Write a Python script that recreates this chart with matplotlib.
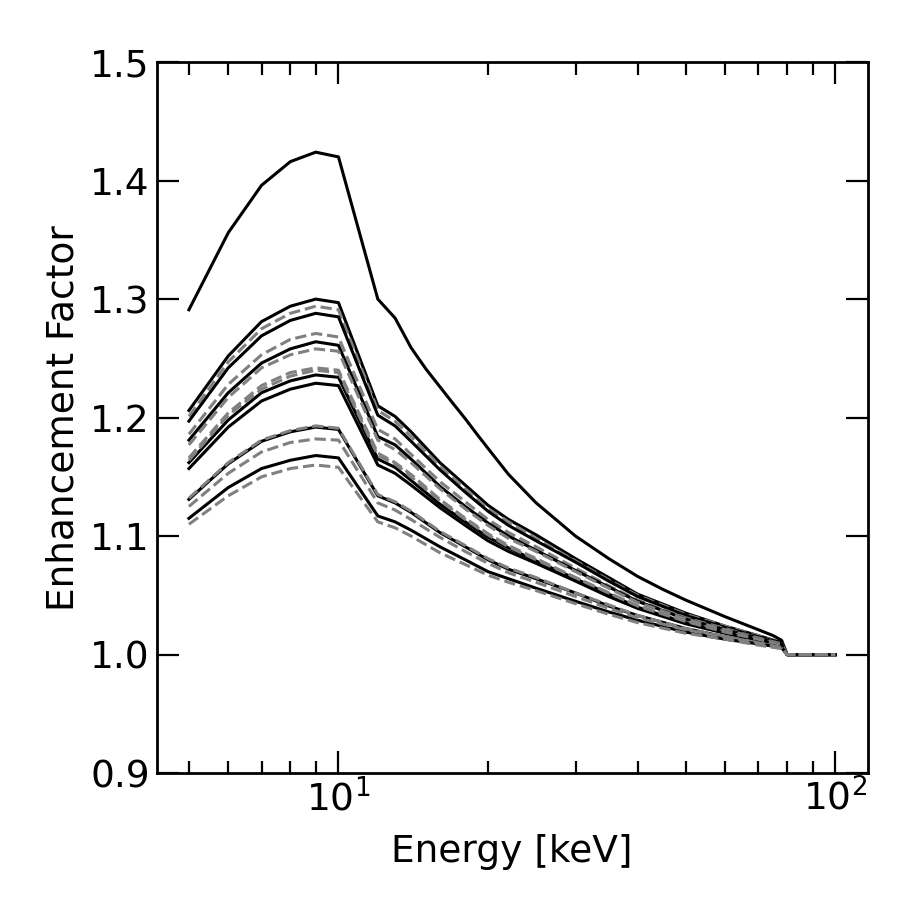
import numpy as np
import matplotlib
matplotlib.use('Agg')
import matplotlib.pyplot as plt

# энергии, кэВ
energy = [5, 6, 7, 8, 9, 10, 12, 13, 14, 16, 18, 20, 22, 25, 30, 35, 40, 50, 60, 70, 78, 80, 100]
energy_top = [5, 6, 7, 8, 9, 10, 12, 13, 14, 15, 16, 17, 18, 19, 20, 22, 25, 30, 35, 40, 45, 50,
              60, 70, 75, 78, 80, 90, 100]

# верхняя кривая
top_curve = [1.291, 1.356, 1.396, 1.416, 1.424, 1.420, 1.300, 1.284, 1.259, 1.241, 1.226, 1.212,
             1.199, 1.186, 1.174, 1.152, 1.128, 1.100, 1.081, 1.066, 1.055, 1.046, 1.032, 1.021,
             1.016, 1.012, 1.0, 1.0, 1.0]

# сплошные кривые
solid_curves = [
    [1.206, 1.252, 1.281, 1.294, 1.300, 1.297, 1.210, 1.201, 1.188, 1.162, 1.143, 1.126, 1.114,
     1.101, 1.081, 1.065, 1.051, 1.035, 1.024, 1.016, 1.010, 1.0, 1.0],
    [1.197, 1.242, 1.269, 1.282, 1.288, 1.285, 1.202, 1.193, 1.180, 1.156, 1.137, 1.121, 1.109,
     1.096, 1.078, 1.062, 1.049, 1.033, 1.023, 1.015, 1.010, 1.0, 1.0],
    [1.181, 1.221, 1.246, 1.258, 1.264, 1.261, 1.184, 1.177, 1.165, 1.142, 1.125, 1.111, 1.100,
     1.088, 1.071, 1.057, 1.045, 1.030, 1.021, 1.014, 1.009, 1.0, 1.0],
    [1.162, 1.198, 1.221, 1.231, 1.236, 1.234, 1.165, 1.158, 1.147, 1.127, 1.112, 1.099, 1.090,
     1.079, 1.064, 1.051, 1.040, 1.027, 1.019, 1.013, 1.008, 1.0, 1.0],
    [1.157, 1.192, 1.214, 1.224, 1.229, 1.227, 1.160, 1.153, 1.143, 1.124, 1.109, 1.096, 1.087,
     1.077, 1.062, 1.049, 1.039, 1.026, 1.018, 1.012, 1.008, 1.0, 1.0],
    [1.131, 1.161, 1.180, 1.188, 1.192, 1.190, 1.134, 1.128, 1.120, 1.103, 1.091, 1.080, 1.072,
     1.064, 1.052, 1.041, 1.033, 1.022, 1.015, 1.010, 1.006, 1.0, 1.0],
    [1.115, 1.141, 1.157, 1.164, 1.168, 1.166, 1.117, 1.112, 1.105, 1.091, 1.080, 1.070, 1.064,
     1.056, 1.045, 1.036, 1.029, 1.019, 1.013, 1.009, 1.006, 1.0, 1.0],
]

# пунктирные кривые
dashed_curves = [
    [1.201, 1.247, 1.275, 1.288, 1.294, 1.291, 1.206, 1.197, 1.184, 1.159, 1.140, 1.123, 1.112,
     1.098, 1.079, 1.063, 1.050, 1.034, 1.024, 1.016, 1.010, 1.0, 1.0],
    [1.186, 1.228, 1.253, 1.266, 1.271, 1.268, 1.190, 1.182, 1.169, 1.146, 1.129, 1.114, 1.103,
     1.091, 1.073, 1.058, 1.046, 1.031, 1.022, 1.014, 1.009, 1.0, 1.0],
    [1.177, 1.217, 1.242, 1.253, 1.258, 1.256, 1.181, 1.173, 1.162, 1.140, 1.123, 1.109, 1.098,
     1.087, 1.070, 1.056, 1.044, 1.030, 1.021, 1.014, 1.009, 1.0, 1.0],
    [1.166, 1.204, 1.227, 1.238, 1.242, 1.240, 1.170, 1.162, 1.152, 1.131, 1.115, 1.102, 1.092,
     1.081, 1.065, 1.052, 1.041, 1.028, 1.019, 1.013, 1.008, 1.0, 1.0],
    [1.164, 1.202, 1.224, 1.235, 1.240, 1.238, 1.168, 1.161, 1.150, 1.130, 1.114, 1.101, 1.091,
     1.080, 1.065, 1.052, 1.041, 1.028, 1.019, 1.013, 1.008, 1.0, 1.0],
    [1.132, 1.162, 1.181, 1.189, 1.193, 1.191, 1.135, 1.129, 1.121, 1.104, 1.092, 1.081, 1.073,
     1.065, 1.052, 1.042, 1.033, 1.022, 1.015, 1.010, 1.006, 1.0, 1.0],
    [1.125, 1.153, 1.171, 1.179, 1.182, 1.181, 1.128, 1.122, 1.114, 1.099, 1.087, 1.077, 1.069,
     1.061, 1.049, 1.039, 1.031, 1.021, 1.015, 1.010, 1.006, 1.0, 1.0],
    [1.110, 1.134, 1.150, 1.157, 1.160, 1.158, 1.112, 1.107, 1.100, 1.086, 1.076, 1.067, 1.061,
     1.054, 1.043, 1.034, 1.027, 1.018, 1.013, 1.008, 1.005, 1.0, 1.0],
]

fig = plt.figure(figsize=(9, 9), dpi=100)
ax = fig.add_axes([0.174, 0.141, 0.79, 0.79])

ax.plot(energy_top, top_curve, color='black', lw=2.2)
for i in range(len(dashed_curves)):
    if i < len(solid_curves):
        ax.plot(energy, solid_curves[i], color='black', lw=2.2)
    ax.plot(energy, dashed_curves[i], color='gray', lw=2.2, ls='--')

ax.set_xscale('log')
ax.set_ylim(0.9, 1.5)
ax.set_yticks([0.9, 1.0, 1.1, 1.2, 1.3, 1.4, 1.5])

ax.tick_params(which='both', direction='in', top=True, right=True, labelsize=27, width=1.6)
ax.tick_params(which='major', length=16, pad=5)
ax.tick_params(axis='x', which='major', pad=4)
ax.tick_params(which='minor', length=9)
for s in ax.spines.values():
    s.set_linewidth(2)

ax.set_xlabel('Energy [keV]', fontsize=27, labelpad=11)
ax.set_ylabel('Enhancement Factor', fontsize=27, labelpad=6)

plt.savefig('out.png', dpi=100)
